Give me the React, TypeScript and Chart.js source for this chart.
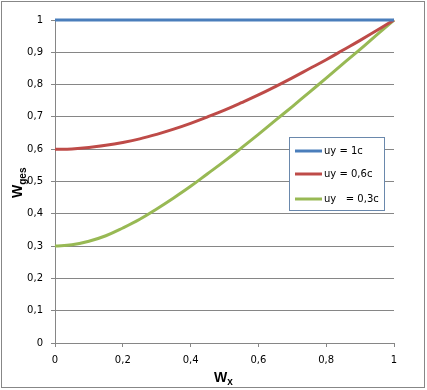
import React, { useEffect, useRef } from "react";
import { Chart, registerables } from "chart.js";

Chart.register(...registerables);

const xValues = [0, 0.05, 0.1, 0.15, 0.2, 0.25, 0.3, 0.35, 0.4, 0.45, 0.5, 0.55, 0.6, 0.65, 0.7, 0.75, 0.8, 0.85, 0.9, 0.95, 1];
const seriesBlue = [1, 1, 1, 1, 1, 1, 1, 1, 1, 1, 1, 1, 1, 1, 1, 1, 1, 1, 1, 1, 1];
const seriesRed = [0.6, 0.601, 0.605, 0.612, 0.621, 0.632, 0.646, 0.662, 0.68, 0.7, 0.721, 0.744, 0.768, 0.794, 0.821, 0.849, 0.877, 0.907, 0.937, 0.968, 1];
const seriesGreen = [0.3, 0.304, 0.315, 0.332, 0.356, 0.383, 0.415, 0.449, 0.485, 0.524, 0.563, 0.604, 0.646, 0.689, 0.732, 0.776, 0.82, 0.865, 0.909, 0.955, 1];
const seriesLabels = ["uy = 1c", "uy = 0,6c", "uy   = 0,3c"];
const seriesColors = ["#4A7EBB", "#BE4B48", "#98B954"];

const fmt = (v: number) => String(Number(Number(v).toFixed(2))).replace(".", ",");

const decorPlugin = {
  id: "decor",
  beforeDraw(chart: any) {
    const ctx = chart.ctx;
    ctx.save();
    ctx.fillStyle = "#ffffff";
    ctx.fillRect(0, 0, chart.width, chart.height);
    ctx.restore();
  },
  afterDraw(chart: any) {
    const ctx = chart.ctx;
    ctx.save();
    // outer border
    ctx.strokeStyle = "#878787";
    ctx.lineWidth = 1;
    ctx.strokeRect(1.5, 1.5, 423, 386);

    // x title
    ctx.fillStyle = "#000";
    ctx.textBaseline = "alphabetic";
    ctx.textAlign = "left";
    ctx.font = "bold 14px 'Liberation Sans', Arial, sans-serif";
    const wW = ctx.measureText("W").width;
    const xs = 214;
    ctx.fillText("W", xs, 382);
    ctx.font = "bold 10px 'Liberation Sans', Arial, sans-serif";
    ctx.fillText("x", xs + wW, 385);

    // y title
    ctx.save();
    ctx.translate(22, 198);
    ctx.rotate(-Math.PI / 2);
    ctx.font = "bold 14px 'Liberation Sans', Arial, sans-serif";
    ctx.fillText("W", 0, 0);
    ctx.font = "bold 10px 'Liberation Sans', Arial, sans-serif";
    ctx.fillText("ges", wW, 4);
    ctx.restore();

    // legend
    const bx = 289.5, by = 137.5, bw = 95, bh = 73;
    ctx.fillStyle = "#ffffff";
    ctx.fillRect(bx, by, bw, bh);
    ctx.strokeStyle = "#6A88AC";
    ctx.lineWidth = 1;
    ctx.strokeRect(bx, by, bw, bh);
    const rows = [151, 174, 199];
    ctx.font = "10px 'DejaVu Sans', sans-serif";
    ctx.textBaseline = "middle";
    chart.data.datasets.forEach((ds: any, i: number) => {
      ctx.strokeStyle = ds.borderColor;
      ctx.lineWidth = 3;
      ctx.beginPath();
      ctx.moveTo(295, rows[i]);
      ctx.lineTo(322, rows[i]);
      ctx.stroke();
      ctx.fillStyle = "#000";
      ctx.fillText(ds.label, 324, rows[i]);
    });
    ctx.restore();
  },
};

export default function App() {
  const ref = useRef<HTMLCanvasElement | null>(null);
  useEffect(() => {
    if (!ref.current) return;
    const series = [seriesBlue, seriesRed, seriesGreen];
    const chart = new Chart(ref.current, {
      type: "line",
      data: {
        datasets: series.map((s, i) => ({
          label: seriesLabels[i],
          data: xValues.map((x, j) => ({ x, y: s[j] })),
          borderColor: seriesColors[i],
          backgroundColor: seriesColors[i],
          borderWidth: 3,
          pointRadius: 0,
          tension: 0.4,
          clip: 6,
          fill: false,
        })),
      },
      options: {
        animation: false,
        responsive: false,
        maintainAspectRatio: false,
        layout: { padding: { left: 0, top: 20, right: 33, bottom: 0 } },
        plugins: { legend: { display: false }, tooltip: { enabled: false } },
        scales: {
          x: {
            type: "linear",
            min: 0,
            max: 1,
            afterFit: (s: any) => {
              s.height = 47;
            },
            ticks: {
              stepSize: 0.2,
              color: "#000",
              padding: 7,
              font: { family: "'DejaVu Sans', sans-serif", size: 10 },
              callback: (v: any) => fmt(v),
              maxRotation: 0,
            },
            grid: { drawOnChartArea: false, color: "#868686", tickLength: 4 },
            border: { color: "#868686" },
          },
          y: {
            type: "linear",
            min: 0,
            max: 1,
            afterFit: (s: any) => {
              s.width = 55;
            },
            ticks: {
              stepSize: 0.1,
              color: "#000",
              padding: 8,
              font: { family: "'DejaVu Sans', sans-serif", size: 10 },
              callback: (v: any) => fmt(v),
            },
            grid: { color: "#868686", tickLength: 4 },
            border: { color: "#868686" },
          },
        },
      },
      plugins: [decorPlugin],
    });
    return () => chart.destroy();
  }, []);
  return (
    <div style={{ position: "fixed", left: 0, top: 0, width: 427, height: 390 }}>
      <canvas ref={ref} width={427} height={390} style={{ width: 427, height: 390 }} />
    </div>
  );
}
